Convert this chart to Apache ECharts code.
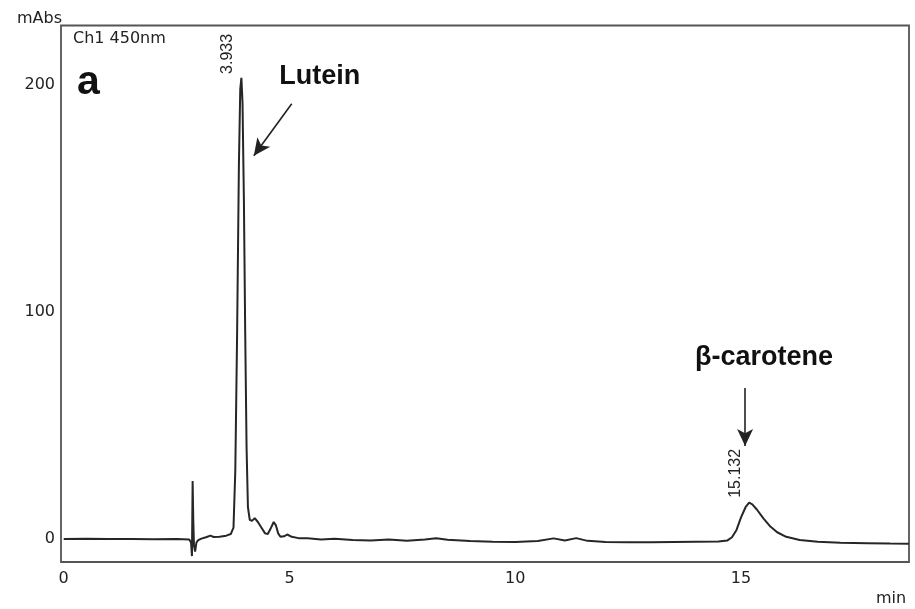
<!DOCTYPE html>
<html>
<head>
<meta charset="utf-8">
<script src="https://cdn.jsdelivr.net/npm/echarts@6/dist/echarts.min.js"></script>
<style>
html,body{margin:0;padding:0;background:#fff;}
#chart{width:915px;height:609px;}
</style>
</head>
<body>
<div id="chart"></div>
<script>
// Retention time (min)
var times = [0.00,0.5,1.0,1.5,2.0,2.5,2.78,2.82,2.84,2.855,2.87,2.885,2.91,2.94,2.98,3.05,3.15,3.25,3.32,3.45,3.6,3.7,3.76,3.80,3.84,3.88,3.91,3.935,3.96,3.99,4.02,4.05,4.08,4.12,4.17,4.23,4.3,4.38,4.46,4.52,4.58,4.65,4.7,4.75,4.8,4.88,4.95,5.05,5.2,5.4,5.7,6.0,6.4,6.8,7.2,7.6,8.0,8.25,8.5,9.0,9.5,10.0,10.5,10.85,11.1,11.35,11.6,12.0,12.5,13.0,13.5,14.0,14.5,14.7,14.8,14.9,15.0,15.1,15.18,15.25,15.35,15.5,15.65,15.8,16.0,16.3,16.7,17.2,17.8,18.3,18.72];
// Absorbance (mAbs)
var absorbance = [0.0,0.1,0.0,0.0,-0.1,0.0,-0.2,-1.5,-7.5,25.5,8,-3,-5.5,-1.5,-0.5,0.2,0.8,1.5,0.9,1.0,1.5,2.2,5,30,90,165,198,203,192,150,90,40,14,8.5,8,9.2,7.5,5,2.5,2.2,4.5,7.5,6,2.5,1.0,1.2,2.0,1.0,0.4,0.3,-0.2,0.1,-0.4,-0.6,-0.2,-0.8,-0.2,0.3,-0.3,-0.9,-1.2,-1.3,-0.9,0.3,-0.6,0.4,-0.8,-1.3,-1.4,-1.4,-1.3,-1.2,-1.1,-0.6,0.8,4,9.5,14,16,15.3,13,9,5.5,3,1.0,-0.4,-1.2,-1.6,-1.8,-2.0,-2.1];
var xTicks = [0, 5, 10, 15];
var yTicks = [0, 100, 200];
var peakLabels = [
  {text: '3.933', at: [3.63, 213.5]},
  {text: '15.132', at: [14.87, 28.9]}
];
var compoundLabels = [
  {text: 'Lutein', at: [5.67, 203.5]},
  {text: 'β-carotene', at: [15.51, 80]}
];
var arrows = [
  {from: [5.05, 191.6], to: [4.21, 168.7]},
  {from: [15.09, 66.5], to: [15.09, 41.0]}
];

var data = times.map(function (t, i) { return [t, absorbance[i]]; });

var chart = echarts.init(document.getElementById('chart'), null, {renderer: 'canvas'});

var markPts = [];
peakLabels.forEach(function (p) {
  markPts.push({
    coord: p.at, symbol: 'circle', symbolSize: 1,
    itemStyle: {color: 'rgba(0,0,0,0)'},
    label: {show: true, formatter: p.text, position: 'inside', rotate: 90,
      fontFamily: 'Liberation Sans', fontSize: 16, color: '#222'}
  });
});
compoundLabels.forEach(function (p) {
  markPts.push({
    coord: p.at, symbol: 'circle', symbolSize: 1,
    itemStyle: {color: 'rgba(0,0,0,0)'},
    label: {show: true, formatter: p.text, position: 'inside',
      fontFamily: 'Liberation Sans', fontWeight: 'bold', fontSize: 27, color: '#111'}
  });
});

var option = {
  animation: false,
  backgroundColor: '#fff',
  grid: {left: 61, right: 6, top: 25.5, bottom: 47, show: true, borderColor: '#555', borderWidth: 1.8, backgroundColor: 'transparent'},
  xAxis: {
    type: 'value', min: -0.06, max: 18.72,
    axisLine: {show: false}, axisTick: {show: false}, splitLine: {show: false},
    axisLabel: {customValues: xTicks, margin: 9, fontFamily: 'DejaVu Sans', fontSize: 16, color: '#222'}
  },
  yAxis: {
    type: 'value', min: -10.1, max: 226,
    axisLine: {show: false}, axisTick: {show: false}, splitLine: {show: false},
    axisLabel: {customValues: yTicks, margin: 6, fontFamily: 'DejaVu Sans', fontSize: 16, color: '#222'}
  },
  graphic: [
    {type: 'text', right: 853, top: 11, style: {text: 'mAbs', fontFamily: 'DejaVu Sans', fontSize: 16, fill: '#222'}},
    {type: 'text', left: 876, top: 591, style: {text: 'min', fontFamily: 'DejaVu Sans', fontSize: 16, fill: '#222'}},
    {type: 'text', left: 73, top: 31, style: {text: 'Ch1 450nm', fontFamily: 'DejaVu Sans', fontSize: 16, fill: '#222'}},
    {type: 'text', left: 77, top: 62, style: {text: 'a', fontFamily: 'Liberation Sans', fontWeight: 'bold', fontSize: 41, fill: '#111'}}
  ],
  series: [{
    type: 'line',
    data: data,
    showSymbol: false,
    smooth: false,
    lineStyle: {color: '#262626', width: 2},
    markPoint: {silent: true, data: markPts},
    markLine: {
      silent: true,
      symbol: ['none', 'arrow'],
      symbolSize: [12, 17],
      label: {show: false},
      lineStyle: {color: '#222', width: 1.6, type: 'solid'},
      data: arrows.map(function (a) { return [{coord: a.from}, {coord: a.to}]; })
    }
  }]
};
chart.setOption(option);
</script>
</body>
</html>
